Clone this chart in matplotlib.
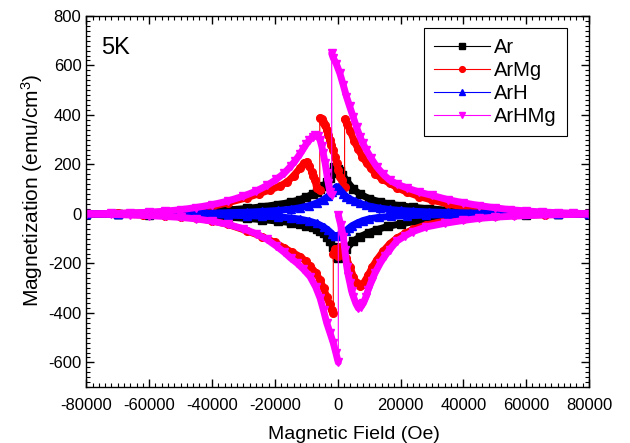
import numpy as np
import matplotlib
matplotlib.use("Agg")
import matplotlib.pyplot as plt
from matplotlib.ticker import MultipleLocator

plt.rcParams["font.family"] = ["Liberation Sans", "DejaVu Sans"]
plt.rcParams["mathtext.default"] = "regular"
plt.rcParams["axes.unicode_minus"] = False

# field (Oe) / magnetization (emu/cm3), upper branch (+80 kOe -> -80 kOe) then lower branch
ar_h = [80000, 70000, 60000, 50000, 42000, 35000, 29000, 24000, 20000, 16500, 13500, 10000, 7100,
        5000, 2800, 1500, 600, 0, -700, -1200, -2000, -2600, -3500, -4500, -5500, -6700, -8000,
        -10000, -12000, -15000, -19000, -24000, -29000, -35000, -42000, -50000, -60000, -70000, -80000,
        -80000, -70000, -60000, -50000, -42000, -35000, -29000, -24000, -19000, -15000, -12000, -10000,
        -8000, -6700, -5500, -4500, -3500, -2500, -1500, -800, -300, 0, 600, 1500, 2800, 5000, 7100,
        10000, 12400, 16000, 20000, 25000, 30000, 36000, 43000, 50000, 60000, 70000, 80000]
ar_m = [0, 1, 3, 6, 10, 15, 21, 27, 33, 40, 48, 62, 80,
        100, 135, 158, 172, 180, 187, 191, 165, 145, 128, 112, 100, 90, 80,
        68, 58, 47, 38, 29, 22, 16, 10, 6, 3, 1, 0,
        0, -1, -3, -5, -9, -13, -18, -23, -29, -35, -41, -47,
        -53, -60, -68, -78, -92, -110, -132, -155, -175, -179, -165, -152, -140, -110, -92,
        -75, -64, -50, -40, -30, -22, -15, -10, -6, -3, -1, 0]

armg_h = [80000, 70000, 62000, 55000, 50000, 45000, 40000, 35000, 30000, 26000, 22000, 19000, 16500,
          14000, 12000, 10500, 9200, 7800, 6500, 5200, 4000, 3000, 2200, 2200, 1300, 700, 200, -300,
          -900, -1400, -2000, -2500, -3000, -3500, -4000, -4600, -5100, -5700, -5700, -6700, -7200,
          -7800, -8300, -9000, -9900, -10800, -12000, -14000, -16000, -18500, -21500, -25000, -29000,
          -35000, -40000, -45000, -50000, -55000, -62000, -70000, -80000,
          -80000, -70000, -62000, -55000, -50000, -45000, -40000, -35000, -29000, -24000, -20000,
          -17000, -14500, -12000, -10000, -8800, -7000, -5600, -4500, -3500, -2600, -1900, -1400,
          -1400, -800, 0, 800, 1600, 2800, 3900, 5000, 6000, 7000, 8100, 9700, 11000, 12400, 14500,
          16600, 18800, 21500, 24000, 28000, 34000, 40000, 45000, 50000, 56000, 66000, 80000]
armg_m = [0, 2, 4, 8, 12, 19, 28, 40, 56, 70, 88, 105, 124,
          142, 162, 185, 205, 232, 262, 295, 335, 362, 382, 108, 137, 151, 178, 205,
          232, 259, 280, 299, 320, 339, 358, 373, 382, 388, 97, 104, 137,
          155, 171, 195, 210, 205, 185, 155, 130, 112, 97, 82, 65,
          45, 30, 20, 13, 8, 4, 2, 0,
          -1, -2, -4, -7, -11, -17, -28, -42, -68, -92, -115,
          -137, -155, -172, -192, -210, -237, -267, -300, -334, -365, -388, -401,
          -160, -140, -170, -135, -150, -179, -213, -253, -278, -290, -282, -248, -215, -186, -150,
          -120, -98, -78, -62, -45, -28, -19, -13, -9, -6, -3, -1]

arh_h = [80000, 70000, 60000, 50000, 42000, 35000, 29000, 24000, 20000, 16500, 13500, 11000, 9000,
         7100, 5500, 4000, 2800, 1800, 800, 0, -400, -1000, -1800, -3000, -4500, -6700, -9000,
         -12000, -15000, -19000, -24000, -29000, -35000, -42000, -50000, -60000, -70000, -80000,
         -80000, -70000, -60000, -50000, -42000, -35000, -29000, -24000, -19000, -15000, -12000,
         -9000, -6700, -4500, -3000, -1800, -1000, -300, 500, 1500, 2500, 3500, 4500, 6000, 8000,
         10000, 13000, 17000, 22000, 28000, 35000, 45000, 60000, 80000]
arh_m = [0, 1, 2, 3, 4, 6, 8, 11, 14, 18, 23, 29, 35,
         43, 51, 60, 70, 82, 97, 108, 110, 102, 88, 72, 58, 44, 34,
         25, 19, 14, 10, 7, 5, 3, 2, 1, 0, 0,
         0, 0, -1, -2, -3, -5, -7, -9, -12, -16, -21,
         -29, -38, -52, -66, -80, -90, -88, -84, -80, -70, -58, -48, -38, -27,
         -20, -14, -10, -7, -5, -3, -2, -1, 0]

arhmg_h = [80000, 75000, 70000, 65000, 60000, 55000, 50000, 45000, 40000, 35000, 30000, 26000, 22000,
           19000, 16500, 14500, 12400, 10500, 9100, 8000, 7100, 6000, 4900, 3800, 2800, 1800, 700,
           -400, -1400, -1900, -1900, -2450, -3000, -3500, -4000, -4600, -5100, -5600, -6400, -7200,
           -8000, -9000, -10000, -11000, -12000, -13500, -15000, -17000, -19500, -22500, -26000,
           -30000, -35000, -40000, -45000, -50000, -55000, -60000, -66000, -72000, -80000,
           -80000, -72000, -66000, -60000, -55000, -50000, -45000, -40000, -35000, -30000, -26000,
           -22500, -19500, -17000, -15000, -13000, -11000, -8800, -7000, -5600, -4500, -3500, -2400,
           -1400, -600, 200, 200, 1000, 1800, 2300, 2900, 3400, 3900, 4400, 5000, 5800, 6600, 7400,
           8200, 9000, 9700, 10800, 11900, 13500, 15000, 16500, 18800, 21500, 24000, 28000, 34000,
           40000, 45000, 50000, 56000, 66000, 80000]
arhmg_m = [1, 3, 5, 8, 12, 17, 25, 34, 45, 58, 75, 88, 105,
           120, 137, 160, 191, 228, 259, 285, 312, 350, 393, 435, 474, 520, 568,
           605, 630, 649, 78, 88, 125, 165, 206, 245, 275, 299, 315, 320,
           312, 298, 282, 262, 242, 215, 192, 165, 140, 115, 92,
           72, 52, 37, 26, 17, 11, 7, 4, 2, 1,
           -1, -2, -4, -7, -10, -14, -20, -29, -42, -60, -80,
           -103, -130, -155, -178, -198, -222, -253, -295, -340, -390, -440, -482,
           -521, -560, -600, -5, -45, -92, -145, -213, -250, -279, -310, -334, -362, -381, -375,
           -360, -335, -307, -270, -238, -200, -170, -145, -110, -88, -71, -53, -38,
           -26, -18, -13, -9, -4, -1]

series = [
    ("Ar", ar_h, ar_m, "black", "s"),
    ("ArMg", armg_h, armg_m, "red", "o"),
    ("ArH", arh_h, arh_m, "blue", "^"),
    ("ArHMg", arhmg_h, arhmg_m, "magenta", "v"),
]

fig = plt.figure(figsize=(6.3, 4.43), dpi=100)
ax = fig.add_axes([0.137, 0.126, 0.798, 0.838])

for label, h, m, color, marker in series:
    h = np.array(h, dtype=float)
    m = np.array(m, dtype=float)
    # dense measurement band, broken at the vertical flux jumps
    cuts = np.where(np.diff(h) == 0)[0] + 1
    for hs, ms in zip(np.split(h, cuts), np.split(m, cuts)):
        ax.plot(hs, ms, color=color, lw=5, solid_joinstyle="round", solid_capstyle="round")
    ax.plot(h, m, color=color, lw=0.8, marker=marker, ms=5.5, mec=color, label=label)

ax.set_xlim(-80000, 80000)
ax.set_ylim(-700, 800)
ax.xaxis.set_major_locator(MultipleLocator(20000))
ax.xaxis.set_minor_locator(MultipleLocator(2000))
ax.yaxis.set_major_locator(MultipleLocator(200))
ax.yaxis.set_minor_locator(MultipleLocator(20))
ax.tick_params(which="both", direction="in", top=True, right=True, labelsize=12)
ax.tick_params(which="major", length=6, width=1)
ax.tick_params(axis="x", which="major", pad=8)
ax.tick_params(which="minor", length=3, width=0.8)
for s in ax.spines.values():
    s.set_linewidth(1)

ax.set_xlabel("Magnetic Field (Oe)", fontsize=14, labelpad=9, x=0.533)
ax.set_ylabel("Magnetization (emu/cm$^3$)", fontsize=15, labelpad=2, y=0.53)
ax.text(0.03, 0.915, "5K", transform=ax.transAxes, fontsize=17, va="center", ha="left")

leg = ax.legend(loc="upper right", bbox_to_anchor=(0.956, 0.968), borderaxespad=0,
                fontsize=14.5, numpoints=1, markerscale=0.75, handlelength=2.8,
                handletextpad=0.2, labelspacing=0.2, borderpad=0.5, fancybox=False,
                framealpha=1, edgecolor="black")
leg.get_frame().set_linewidth(0.8)

fig.savefig("out.png", dpi=100)
